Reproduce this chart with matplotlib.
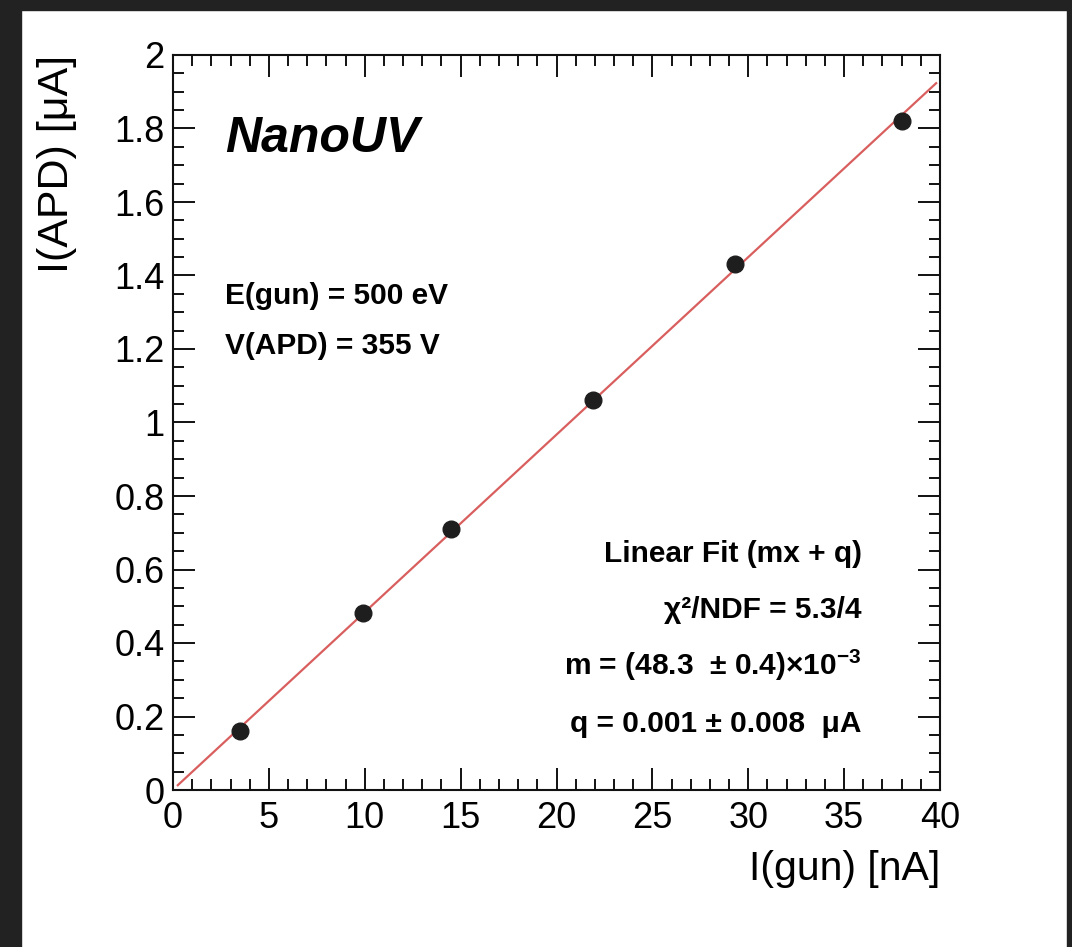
import matplotlib
matplotlib.use('Agg')
import matplotlib.pyplot as plt
from matplotlib.patches import Rectangle
from matplotlib.ticker import MultipleLocator, FuncFormatter

plt.rcParams['font.family'] = ['Liberation Sans', 'DejaVu Sans']
plt.rcParams['mathtext.fontset'] = 'custom'
plt.rcParams['mathtext.rm'] = 'Liberation Sans:bold'
plt.rcParams['mathtext.bf'] = 'Liberation Sans:bold'

# measured currents
i_gun = [3.5, 9.9, 14.5, 21.9, 29.3, 38.0]        # nA
i_apd = [0.161, 0.482, 0.710, 1.061, 1.431, 1.820]  # uA

# linear fit result (mx + q)
slope = 48.3e-3
offset = 0.001
fit_range = [0.25, 39.8]

W, H = 1072, 947
fig = plt.figure(figsize=(W / 100, H / 100), dpi=100)
fig.patch.set_facecolor('white')

# dark frame around the canvas
frame = '#222222'
fig.patches.append(Rectangle((0, 1 - 10 / H), 1, 10 / H, transform=fig.transFigure, color=frame, zorder=0))
fig.patches.append(Rectangle((0, 0), 21 / W, 1, transform=fig.transFigure, color=frame, zorder=0))
fig.patches.append(Rectangle((1067 / W, 0), 5 / W, 1, transform=fig.transFigure, color=frame, zorder=0))

ax = fig.add_axes([173 / W, 1 - 790 / H, (940 - 173) / W, (790 - 55) / H])

fit_x = fit_range
fit_y = [slope * x + offset for x in fit_x]
ax.plot(fit_x, fit_y, color='#d95f5f', lw=1.6, zorder=2)
ax.plot(i_gun, i_apd, 'o', color='#1e1e1e', ms=12, zorder=3)

ax.set_xlim(0, 40)
ax.set_ylim(0, 2)
ax.xaxis.set_major_locator(MultipleLocator(5))
ax.xaxis.set_minor_locator(MultipleLocator(1))
ax.yaxis.set_major_locator(MultipleLocator(0.2))
ax.yaxis.set_minor_locator(MultipleLocator(0.05))
ax.yaxis.set_major_formatter(FuncFormatter(lambda v, p: f'{v:g}'))
ax.xaxis.set_major_formatter(FuncFormatter(lambda v, p: f'{v:g}'))

ax.tick_params(which='both', direction='in', top=True, right=True, width=1.4, color='#111111')
ax.tick_params(which='major', length=15.8, labelsize=26)
ax.tick_params(which='minor', length=7.9)
ax.tick_params(axis='y', which='major', pad=6)
ax.tick_params(axis='x', which='major', pad=8)
for s in ax.spines.values():
    s.set_linewidth(1.5)
    s.set_color('#111111')

ax.set_xlabel('I(gun) [nA]', fontsize=29.5, loc='right')
ax.xaxis.set_label_coords(1.0, -0.082)
ax.set_ylabel('I(APD) [μA]', fontsize=31, loc='top')
ax.yaxis.set_label_coords(-0.125, 1.0)


def put(x, y, s, **kw):
    fig.text(x / W, 1 - y / H, s, va='baseline', **kw)


put(225, 152, 'NanoUV', fontsize=36, fontweight='bold', fontstyle='italic')
put(225, 304, 'E(gun) = 500 eV', fontsize=21.5, fontweight='bold')
put(225, 354, 'V(APD) = 355 V', fontsize=21.5, fontweight='bold')

put(862, 562, 'Linear Fit (mx + q)', fontsize=21.5, fontweight='bold', ha='right')
put(862, 618, 'χ²/NDF = 5.3/4', fontsize=21.5, fontweight='bold', ha='right')
put(862, 675, 'm = (48.3  ± 0.4)×10$^{-3}$', fontsize=21.5, fontweight='bold', ha='right')
put(862, 732, 'q = 0.001 ± 0.008  μA', fontsize=21.5, fontweight='bold', ha='right')

fig.savefig('out.png', dpi=100)
